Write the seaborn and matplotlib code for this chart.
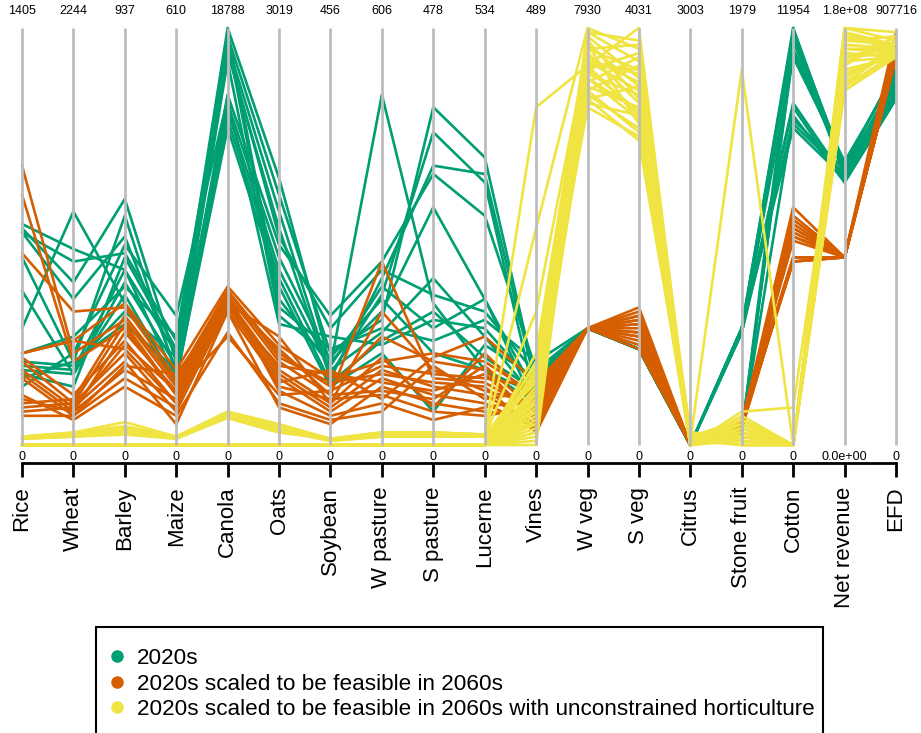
import numpy as np
import pandas as pd
import seaborn as sns
import matplotlib.pyplot as plt
from matplotlib.lines import Line2D
from matplotlib.patches import Rectangle

# Crop / outcome axes of the parallel-coordinates plot
crops = ["Rice", "Wheat", "Barley", "Maize", "Canola", "Oats", "Soybean",
         "W pasture", "S pasture", "Lucerne", "Vines", "W veg", "S veg",
         "Citrus", "Stone fruit", "Cotton", "Net revenue", "EFD"]

# Range of each axis (area in ha, net revenue in $, EFD in ML)
axis_max = [1405, 2244, 937, 610, 18788, 3019, 456, 606, 478, 534, 489,
            7930, 4031, 3003, 1979, 11954, 1.8e8, 907716]
axis_min = [0] * len(crops)

# Each portfolio as % of its axis range, one row per portfolio
lines_2020s = [
    [53, 47, 42, 22, 100, 64, 19, 84, 34, 18, 12, 28, 23, 0, 28, 100, 66, 88],
    [52, 39, 59, 20, 98, 60, 22, 30, 81, 69, 15, 28, 23, 0, 28, 97, 65, 86],
    [51, 35, 50, 18, 96, 56, 17, 36, 75, 63, 10, 28, 23, 0, 3, 94, 67, 90],
    [51, 44, 46, 25, 94, 52, 16, 40, 67, 65, 14, 28, 23, 0, 27, 82, 64, 84],
    [45, 20, 55, 17, 84, 48, 31, 44, 65, 55, 18, 28, 23, 0, 3, 79, 63, 83],
    [37, 17, 39, 19, 82, 45, 20, 32, 57, 35, 9, 28, 23, 0, 28, 76, 64, 85],
    [28, 56, 34, 15, 80, 42, 18, 27, 40, 26, 11, 28, 23, 0, 2, 98, 66, 87],
    [20, 19, 32, 21, 78, 40, 15, 25, 32, 21, 13, 28, 23, 0, 27, 93, 68, 89],
    [19, 18, 42, 16, 76, 38, 14, 22, 8, 24, 16, 28, 23, 0, 28, 77, 65, 84],
    [18, 17, 36, 15, 99, 35, 19, 38, 28, 35, 12, 28, 23, 0, 3, 95, 67, 86],
    [17, 14, 45, 23, 97, 33, 23, 28, 25, 30, 20, 28, 23, 0, 28, 81, 63, 83],
    [16, 20, 29, 18, 92, 31, 21, 35, 22, 18, 10, 28, 23, 0, 3, 100, 64, 88],
    [14, 22, 48, 31, 83, 29, 26, 24, 30, 28, 14, 28, 23, 0, 27, 78, 66, 85],
    [22, 26, 38, 26, 95, 50, 28, 42, 36, 32, 17, 28, 23, 0, 28, 99, 67, 90],
]

lines_2060s = [
    [67, 22, 30, 14, 36, 20, 12, 44, 16, 15, 8, 28, 30, 0, 5, 57, 45, 95],
    [60, 20, 28, 12, 35, 18, 10, 32, 18, 13, 10, 28, 29, 0, 4, 55, 45, 94],
    [46, 32, 33, 16, 37, 22, 14, 26, 20, 18, 6, 28, 31, 0, 6, 53, 45, 93],
    [22, 25, 34, 18, 38, 24, 16, 20, 22, 20, 12, 28, 33, 0, 5, 52, 45, 96],
    [21, 12, 25, 10, 34, 17, 9, 18, 14, 12, 5, 28, 27, 0, 4, 51, 45, 93],
    [20, 10, 22, 8, 33, 16, 8, 16, 12, 10, 4, 28, 26, 0, 5, 50, 45, 97],
    [18, 9, 20, 5, 32, 9, 5, 14, 10, 8, 7, 28, 25, 0, 6, 49, 45, 93],
    [17, 8, 18, 11, 35, 14, 11, 12, 8, 7, 9, 28, 24, 0, 4, 45, 45, 94],
    [16, 7, 16, 9, 36, 13, 7, 10, 6, 9, 11, 28, 23, 0, 5, 44, 45, 99],
    [12, 6, 14, 7, 27, 10, 6, 8, 19, 11, 13, 28, 30, 0, 4, 45, 45, 93],
    [11, 8, 27, 13, 26, 12, 13, 19, 17, 16, 14, 28, 29, 0, 6, 44, 45, 95],
    [10, 11, 31, 15, 37, 21, 15, 17, 15, 14, 3, 28, 28, 0, 5, 54, 45, 93],
    [9, 10, 29, 12, 33, 19, 17, 15, 13, 17, 6, 28, 31, 0, 4, 52, 45, 94],
    [8, 9, 24, 13, 35, 23, 12, 13, 11, 19, 8, 28, 32, 0, 5, 50, 45, 96],
    [7, 7, 19, 17, 34, 26, 10, 21, 9, 22, 10, 28, 26, 0, 6, 45, 45, 93],
    [22, 25, 23, 10, 32, 15, 18, 11, 21, 26, 15, 28, 27, 0, 5, 44, 45, 95],
]

lines_2060s_hort = [
    [2, 3, 5.5, 2, 8, 5, 1.5, 3, 3, 2.5, 81, 91, 100, 0, 2, 0, 100, 99],
    [2, 2.5, 4, 2, 7.5, 4.5, 1.5, 3, 3, 2, 52, 100, 95, 1, 90, 0, 98, 96],
    [2, 2, 3, 2, 7, 4, 1, 2.5, 2.5, 2, 32, 95, 90, 2, 3, 0, 96, 95],
    [1.5, 2, 3, 1.5, 7, 3.5, 1, 2, 2, 2, 19, 92, 85, 0, 8, 9, 93, 94],
    [2, 2.5, 3.5, 2, 6.5, 3, 1.5, 2.5, 3, 2.5, 15, 90, 80, 3, 0, 0, 90, 93],
    [1.5, 2, 2.5, 1.5, 7.5, 4, 1, 2, 2.5, 2, 12, 88, 78, 1, 4, 0, 88, 95],
    [2, 3, 4.5, 2, 8, 4.5, 1.5, 3, 3, 2.5, 10, 85, 75, 0, 2, 0, 86, 97],
    [1.5, 2.5, 3, 2, 7, 3.5, 1, 2.5, 2, 2, 8, 83, 73, 2, 6, 0, 85, 93],
    [2, 2, 3.5, 1.5, 6.5, 3, 1.5, 2, 2.5, 2, 5, 99, 92, 0, 1, 0, 99, 94],
    [0, 0, 0, 0, 0, 0, 0, 0, 0, 0, 3, 98, 88, 1, 3, 0, 97, 96],
    [0, 0, 0, 0, 0, 0, 0, 0, 0, 0, 1, 96, 86, 0, 5, 0, 95, 95],
    [0, 0, 0, 0, 0, 0, 0, 0, 0, 0, 0, 94, 82, 2, 0, 0, 92, 93],
    [0, 0, 0, 0, 0, 0, 0, 0, 0, 0, 2, 91, 90, 0, 4, 0, 91, 98],
    [0, 0, 0, 0, 0, 0, 0, 0, 0, 0, 6, 89, 84, 3, 2, 0, 89, 94],
    [0, 0, 0, 0, 0, 0, 0, 0, 0, 0, 9, 87, 93, 0, 7, 0, 87, 95],
    [0, 0, 0, 0, 0, 0, 0, 0, 0, 0, 11, 93, 87, 1, 1, 0, 94, 93],
    [0, 0, 0, 0, 0, 0, 0, 0, 0, 0, 14, 96, 77, 0, 3, 0, 99, 96],
    [0, 0, 0, 0, 0, 0, 0, 0, 0, 0, 17, 82, 79, 2, 5, 0, 85, 94],
    [0, 0, 0, 0, 0, 0, 0, 0, 0, 0, 4, 90, 94, 0, 2, 0, 100, 97],
    [0, 0, 0, 0, 0, 0, 0, 0, 0, 0, 7, 86, 81, 1, 0, 0, 96, 95],
    [0, 0, 0, 0, 0, 0, 0, 0, 0, 0, 20, 84, 76, 0, 3, 0, 86, 94],
    [0, 0, 0, 0, 0, 0, 0, 0, 0, 0, 22, 97, 83, 1, 6, 0, 93, 96],
    [0, 0, 0, 0, 0, 0, 0, 0, 0, 0, 13, 81, 74, 2, 2, 0, 88, 95],
    [0, 0, 0, 0, 0, 0, 0, 0, 0, 0, 16, 99, 97, 0, 4, 0, 97, 98],
    [0, 0, 0, 0, 0, 0, 0, 0, 0, 0, 18, 92, 89, 3, 1, 0, 90, 93],
    [0, 0, 0, 0, 0, 0, 0, 0, 0, 0, 5, 85, 91, 1, 5, 0, 95, 94],
    [0, 0, 0, 0, 0, 0, 0, 0, 0, 0, 8, 88, 80, 0, 3, 0, 86, 97],
    [0, 0, 0, 0, 0, 0, 0, 0, 0, 0, 10, 95, 96, 2, 0, 0, 98, 95],
    [0, 0, 0, 0, 0, 0, 0, 0, 0, 0, 12, 83, 86, 0, 6, 0, 92, 96],
    [0, 0, 0, 0, 0, 0, 0, 0, 0, 0, 3, 91, 79, 1, 2, 0, 89, 94],
]

group_labels = ["2020s",
                "2020s scaled to be feasible in 2060s",
                "2020s scaled to be feasible in 2060s with unconstrained horticulture"]
group_colors = ["#009E73", "#D55E00", "#F0E442"]
group_lines = [lines_2020s, lines_2060s, lines_2060s_hort]

# Long-form table: one row per portfolio x axis
rows = []
for label, lines in zip(group_labels, group_lines):
    for k, vals in enumerate(lines):
        for j, v in enumerate(vals):
            rows.append({"group": label, "line": k, "pos": j, "share": v})
df = pd.DataFrame(rows)

sns.set_style("white")
plt.rcParams["font.family"] = ["Liberation Sans", "DejaVu Sans"]
plt.rcParams["text.color"] = "black"
plt.rcParams["xtick.color"] = "black"
plt.rcParams["xtick.labelcolor"] = "black"

W, H = 921, 733
fig = plt.figure(figsize=(W / 100, H / 100), dpi=100)
x0, x1, ytop, ybot = 22, 896, 28, 445
ax = fig.add_axes([x0 / W, 1 - ybot / H, (x1 - x0) / W, (ybot - ytop) / H])

for label, color in zip(group_labels, group_colors):
    sub = df[df["group"] == label]
    sns.lineplot(data=sub, x="pos", y="share", units="line", estimator=None,
                 sort=False, color=color, lw=1.9, ax=ax, legend=False)
for ln in ax.lines:
    ln.set_clip_on(False)

n = len(crops)
ax.vlines(range(n), 0, 100, color="#BDBDBD", lw=2, zorder=5, clip_on=False)

def fmt(v, j):
    return f"{v:.1e}" if crops[j] == "Net revenue" else f"{v:g}"

for j in range(n):
    ax.annotate(fmt(axis_max[j], j), (j, 100), xytext=(0, 8), textcoords="offset points",
                ha="center", va="bottom", fontsize=9, color="black")
    ax.annotate(fmt(axis_min[j], j), (j, 0), xytext=(0, -4), textcoords="offset points",
                ha="center", va="top", fontsize=9, color="black")

ax.set_xlim(0, n - 1)
ax.set_ylim(0, 100)
ax.set_xlabel("")
ax.set_ylabel("")
ax.set_yticks([])
for s in ["top", "right", "left"]:
    ax.spines[s].set_visible(False)
ax.spines["bottom"].set_position(("outward", 13))
ax.spines["bottom"].set_linewidth(2)
ax.spines["bottom"].set_color("black")
ax.set_xticks(range(n))
ax.set_xticklabels(crops, rotation=90, fontsize=16, color="black")
ax.tick_params(axis="x", direction="out", length=10, width=2, color="black", pad=7, bottom=True)

# Legend box drawn as a figure patch, entries placed inside it
fig.patches.append(Rectangle((96 / W, -10 / H), (823 - 96) / W, (733 - 627 + 10) / H,
                             transform=fig.transFigure, fill=False, edgecolor="black",
                             lw=1.5))
handles = [Line2D([], [], marker="o", linestyle="none", markersize=8,
                  markerfacecolor=c, markeredgecolor=c) for c in group_colors]
leg = fig.legend(handles, group_labels, loc="upper left",
                 bbox_to_anchor=(108 / W, 1 - 648 / H), fontsize=16.2, frameon=False,
                 handlelength=0.8, handletextpad=0.5, labelspacing=0.2,
                 borderpad=0, borderaxespad=0, labelcolor="black")

fig.savefig("out.png", dpi=100)
